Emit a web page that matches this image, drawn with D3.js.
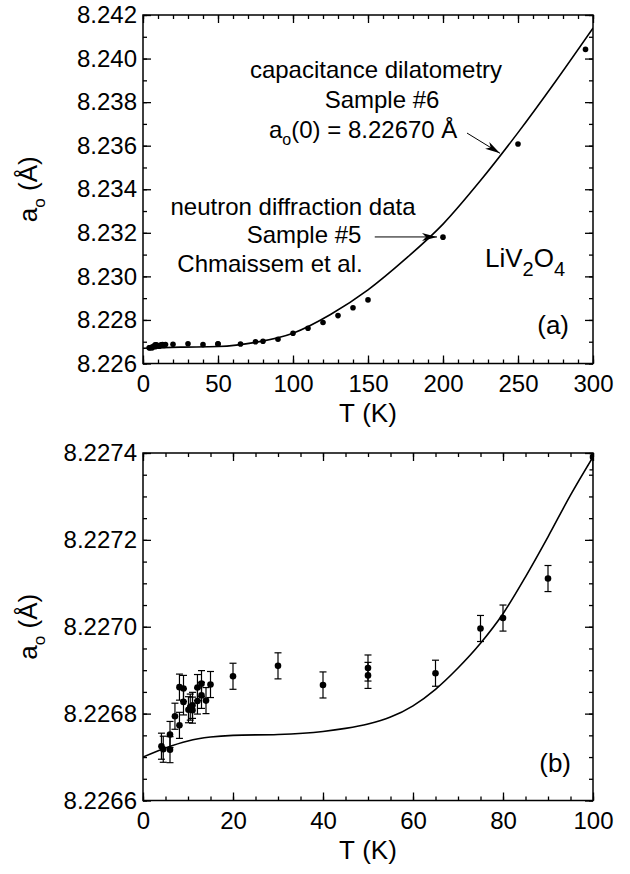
<!DOCTYPE html>
<html>
<head>
<meta charset="utf-8">
<script src="https://cdn.jsdelivr.net/npm/d3@7"></script>
<style>
  html, body { margin: 0; padding: 0; background: #fff; }
  svg text { font-family: "Liberation Sans", Arial, Helvetica, sans-serif; fill: #000; }
</style>
</head>
<body>
<svg id="chart" width="630" height="874"></svg>
<script>
// ---------- data ----------
// neutron diffraction data (Chmaissem et al., sample #5)
const dataT = [4.1, 4.5, 6, 6, 7.1, 8.1, 8.1, 9, 9, 10.1, 10.5, 11, 11, 12.1, 12.1, 13, 13, 14, 15,
               20, 30, 40, 50, 50, 65, 75, 80, 90, 100, 110, 120, 130, 140, 150, 200, 250, 295];
const dataA = [8.226725, 8.226718, 8.226717, 8.226752, 8.226794, 8.226773, 8.226861, 8.226858, 8.226827,
               8.226809, 8.226815, 8.226819, 8.226808, 8.226829, 8.226860, 8.226869, 8.226842, 8.226830, 8.226867,
               8.226886, 8.226910, 8.226866, 8.226905, 8.226888, 8.226893, 8.226996, 8.227020, 8.227111, 8.227391,
               8.22762, 8.22788, 8.22820, 8.22856, 8.22892, 8.23180, 8.23608, 8.24042];
const dataErr = 0.00003;

// capacitance dilatometry (sample #6), full range curve
const curveTopT = [0, 25, 50, 75, 100, 125, 150, 175, 200, 225, 250, 275, 300];
const curveTopA = [8.22670, 8.22675, 8.22678, 8.22697, 8.22739, 8.22825, 8.22938, 8.23080,
                   8.23240, 8.23440, 8.23660, 8.23895, 8.24140];

// capacitance dilatometry, low-T detail
const curveBotT = [0, 5, 10, 15, 20, 30, 40, 45, 50, 55, 60, 65, 70, 75, 80, 85, 90, 95, 100];
const curveBotA = [8.226700, 8.226721, 8.226737, 8.226746, 8.226750, 8.226752, 8.226759, 8.226766,
                   8.226776, 8.226792, 8.226818, 8.226856, 8.226905, 8.226962, 8.227030, 8.227115,
                   8.227207, 8.227303, 8.227391];

// axis ticks
const topXTicks = [0, 50, 100, 150, 200, 250, 300];
const topYTicks = [8.226, 8.228, 8.230, 8.232, 8.234, 8.236, 8.238, 8.240, 8.242];
const botXTicks = [0, 20, 40, 60, 80, 100];
const botYTicks = [8.2266, 8.2268, 8.2270, 8.2272, 8.2274];

// ---------- drawing ----------
const svg = d3.select("#chart");
const FS = 24, TFS = 26;

function panel(cfg) {
  const x = d3.scaleLinear().domain(cfg.xDomain).range([cfg.left, cfg.right]);
  const y = d3.scaleLinear().domain(cfg.yDomain).range([cfg.bottom, cfg.top]);
  const g = svg.append("g");

  const minorX = d3.range(cfg.xDomain[0], cfg.xDomain[1] + 1e-9, cfg.xMinor);
  const minorY = d3.range(0, Math.round((cfg.yDomain[1] - cfg.yDomain[0]) / cfg.yMinor) + 1)
                   .map(i => cfg.yDomain[0] + i * cfg.yMinor);

  const styleAxis = sel => {
    sel.select(".domain").remove();
    sel.selectAll("line").attr("stroke", "#000").attr("stroke-width", 1.3);
    sel.selectAll("text").style("font-size", FS + "px").attr("fill", "#000");
  };

  // minor ticks
  g.append("g").attr("transform", `translate(0,${cfg.bottom})`)
    .call(d3.axisBottom(x).tickValues(minorX).tickSize(-4).tickFormat("")).call(styleAxis);
  g.append("g").attr("transform", `translate(0,${cfg.top})`)
    .call(d3.axisTop(x).tickValues(minorX).tickSize(-4).tickFormat("")).call(styleAxis);
  g.append("g").attr("transform", `translate(${cfg.left},0)`)
    .call(d3.axisLeft(y).tickValues(minorY).tickSize(-4).tickFormat("")).call(styleAxis);
  g.append("g").attr("transform", `translate(${cfg.right},0)`)
    .call(d3.axisRight(y).tickValues(minorY).tickSize(-4).tickFormat("")).call(styleAxis);

  // major ticks
  g.append("g").attr("transform", `translate(0,${cfg.bottom})`)
    .call(d3.axisBottom(x).tickValues(cfg.xTicks).tickSize(-8).tickPadding(11).tickFormat(d3.format("d")))
    .call(styleAxis);
  g.append("g").attr("transform", `translate(0,${cfg.top})`)
    .call(d3.axisTop(x).tickValues(cfg.xTicks).tickSize(-8).tickFormat("")).call(styleAxis);
  g.append("g").attr("transform", `translate(${cfg.left},0)`)
    .call(d3.axisLeft(y).tickValues(cfg.yTicks).tickSize(-8).tickPadding(6).tickFormat(d3.format(cfg.yFormat)))
    .call(styleAxis);
  g.append("g").attr("transform", `translate(${cfg.right},0)`)
    .call(d3.axisRight(y).tickValues(cfg.yTicks).tickSize(-8).tickFormat("")).call(styleAxis);

  // frame
  g.append("rect").attr("x", cfg.left).attr("y", cfg.top)
    .attr("width", cfg.right - cfg.left).attr("height", cfg.bottom - cfg.top)
    .attr("fill", "none").attr("stroke", "#000").attr("stroke-width", 1.5);

  // axis titles
  g.append("text").attr("x", (cfg.left + cfg.right) / 2).attr("y", cfg.bottom + 58)
    .attr("text-anchor", "middle").style("font-size", TFS + "px")
    .text("T\u00a0(K)");
  const yt = g.append("text")
    .attr("transform", `translate(37,${(cfg.top + cfg.bottom) / 2}) rotate(-90)`)
    .attr("text-anchor", "middle").style("font-size", TFS + "px");
  yt.append("tspan").text("a");
  yt.append("tspan").attr("dy", 8).style("font-size", "17px").text("o");
  yt.append("tspan").attr("dy", -8).text("\u00a0(Å)");

  // clip
  const cid = "clip" + cfg.id;
  svg.append("clipPath").attr("id", cid).append("rect")
    .attr("x", cfg.left).attr("y", cfg.top)
    .attr("width", cfg.right - cfg.left).attr("height", cfg.bottom - cfg.top);
  const inner = g.append("g").attr("clip-path", `url(#${cid})`);
  return { x, y, g, inner };
}

// ---------- panel (a) ----------
const A = panel({
  id: "a", left: 143, right: 593, top: 15, bottom: 363.5,
  xDomain: [0, 300], yDomain: [8.226, 8.242],
  xTicks: topXTicks, yTicks: topYTicks, xMinor: 10, yMinor: 0.001, yFormat: ".3f"
});

A.inner.append("path")
  .datum(d3.zip(curveTopT, curveTopA))
  .attr("d", d3.line().x(d => A.x(d[0])).y(d => A.y(d[1])).curve(d3.curveMonotoneX))
  .attr("fill", "none").attr("stroke", "#000").attr("stroke-width", 1.6);

A.inner.selectAll("circle.pt").data(d3.zip(dataT, dataA)).enter()
  .append("circle").attr("class", "pt")
  .attr("cx", d => A.x(d[0])).attr("cy", d => A.y(d[1])).attr("r", 2.8).attr("fill", "#000");

// annotations (a)
svg.append("defs").append("marker").attr("id", "arrow")
  .attr("viewBox", "0 0 15 9").attr("refX", 15).attr("refY", 4.5)
  .attr("markerWidth", 15).attr("markerHeight", 9).attr("markerUnits", "userSpaceOnUse")
  .attr("orient", "auto")
  .append("path").attr("d", "M0,0.5 L15,4.5 L0,8.5 L4,4.5 Z").attr("fill", "#000");

function arrow(sc, t0, a0, t1, a1) {
  svg.append("line")
    .attr("x1", sc.x(t0)).attr("y1", sc.y(a0)).attr("x2", sc.x(t1)).attr("y2", sc.y(a1))
    .attr("stroke", "#000").attr("stroke-width", 1).attr("marker-end", "url(#arrow)");
}
arrow(A, 216, 8.23658, 238, 8.23565);
arrow(A, 154.5, 8.23181, 196, 8.23181);

function label(x, y, txt, anchor, fs) {
  return svg.append("text").attr("x", x).attr("y", y).attr("text-anchor", anchor || "middle")
    .style("font-size", (fs || FS) + "px").text(txt);
}
label(376, 78, "capacitance dilatometry");
label(382, 108, "Sample #6");
const a0 = svg.append("text").attr("x", 269).attr("y", 138).style("font-size", FS + "px");
a0.append("tspan").text("a");
a0.append("tspan").attr("dy", 7).style("font-size", "16px").text("o");
a0.append("tspan").attr("dy", -7).text("(0) = 8.22670 Å");

label(293, 215, "neutron diffraction data");
label(304, 243, "Sample #5");
label(270, 272, "Chmaissem et al.");

const liv = svg.append("text").attr("x", 485).attr("y", 267).style("font-size", "26px");
liv.append("tspan").text("LiV");
liv.append("tspan").attr("dy", 9).style("font-size", "20px").text("2");
liv.append("tspan").attr("dy", -9).text("O");
liv.append("tspan").attr("dy", 9).style("font-size", "20px").text("4");

label(569, 334, "(a)", "end", 26);

// ---------- panel (b) ----------
const B = panel({
  id: "b", left: 143, right: 593, top: 453, bottom: 800.5,
  xDomain: [0, 100], yDomain: [8.2266, 8.2274],
  xTicks: botXTicks, yTicks: botYTicks, xMinor: 5, yMinor: 0.00005, yFormat: ".4f"
});

B.inner.append("path")
  .datum(d3.zip(curveBotT, curveBotA))
  .attr("d", d3.line().x(d => B.x(d[0])).y(d => B.y(d[1])).curve(d3.curveMonotoneX))
  .attr("fill", "none").attr("stroke", "#000").attr("stroke-width", 1.6);

const lowData = d3.zip(dataT, dataA).filter(d => d[0] <= 100);
const eb = B.inner.selectAll("g.eb").data(lowData).enter().append("g").attr("class", "eb");
eb.append("line")
  .attr("x1", d => B.x(d[0])).attr("x2", d => B.x(d[0]))
  .attr("y1", d => B.y(d[1] - dataErr)).attr("y2", d => B.y(d[1] + dataErr))
  .attr("stroke", "#000").attr("stroke-width", 1.2);
[-1, 1].forEach(s => {
  eb.append("line")
    .attr("x1", d => B.x(d[0]) - 3.5).attr("x2", d => B.x(d[0]) + 3.5)
    .attr("y1", d => B.y(d[1] + s * dataErr)).attr("y2", d => B.y(d[1] + s * dataErr))
    .attr("stroke", "#000").attr("stroke-width", 1.2);
});
eb.append("circle")
  .attr("cx", d => B.x(d[0])).attr("cy", d => B.y(d[1])).attr("r", 3.3).attr("fill", "#000");

label(571, 772, "(b)", "end", 26);
</script>
</body>
</html>
